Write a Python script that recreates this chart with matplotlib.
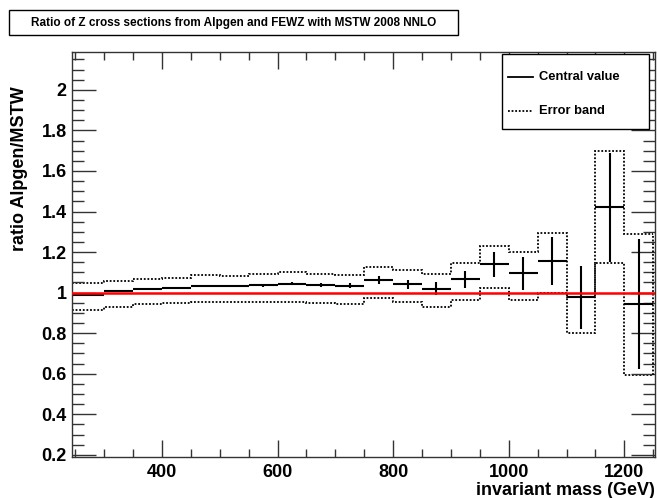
import matplotlib
matplotlib.use("Agg")
import matplotlib.pyplot as plt
from matplotlib.lines import Line2D
from matplotlib.patches import Rectangle
from matplotlib.ticker import MultipleLocator
import numpy as np

plt.rcParams['font.family'] = ['Liberation Sans', 'DejaVu Sans']
plt.rcParams['font.weight'] = 'bold'

# ---- data ----
bin_edges = [245, 300, 350, 400, 450, 500, 550, 600, 650, 700, 750,
             800, 850, 900, 950, 1000, 1050, 1100, 1150, 1200, 1250]
central = [0.990, 1.007, 1.016, 1.024, 1.032, 1.032, 1.037, 1.044, 1.036, 1.034,
           1.062, 1.042, 1.020, 1.067, 1.139, 1.095, 1.155, 0.976, 1.420, 0.945]
central_err = [0.003, 0.003, 0.004, 0.005, 0.005, 0.006, 0.007, 0.008, 0.010, 0.013,
               0.018, 0.022, 0.030, 0.042, 0.061, 0.081, 0.117, 0.155, 0.270, 0.320]
band_up = [1.045, 1.058, 1.065, 1.073, 1.086, 1.083, 1.090, 1.100, 1.092, 1.088,
           1.127, 1.110, 1.090, 1.146, 1.231, 1.201, 1.295, 0.980, 1.700, 1.290]
band_down = [0.914, 0.930, 0.942, 0.947, 0.955, 0.955, 0.955, 0.955, 0.948, 0.943,
             0.974, 0.953, 0.928, 0.966, 1.022, 0.963, 0.996, 0.800, 1.144, 0.595]

title = "Ratio of Z cross sections from Alpgen and FEWZ with MSTW 2008 NNLO"
xlabel = "invariant mass (GeV)"
ylabel = "ratio Alpgen/MSTW"
legend_labels = ["Central value", "Error band"]

W, H = 657, 498
fig = plt.figure(figsize=(W / 100, H / 100), dpi=100)
fig.patch.set_facecolor('white')

# axes in pixel geometry
x0, x1 = 72.3, 655.0
y_top, y_bot = 52.0, 457.0
ax = fig.add_axes([x0 / W, 1 - y_bot / H, (x1 - x0) / W, (y_bot - y_top) / H])

edges = np.array(bin_edges, dtype=float)
centers = 0.5 * (edges[:-1] + edges[1:])
c = np.array(central)
e = np.array(central_err)

dot = (0, (1.0, 1.0))
ax.stairs(band_up, edges, baseline=None, color='black', lw=1.3, ls=dot)
ax.stairs(band_down, edges, baseline=None, color='black', lw=1.3, ls=dot)
ax.vlines([edges[0], edges[-1]], [band_down[0], band_down[-1]],
          [band_up[0], band_up[-1]], color='black', lw=1.3, ls=dot)

ax.hlines(c, edges[:-1], edges[1:], color='black', lw=1.5)
ax.vlines(centers, c - e, c + e, color='black', lw=1.5)

ax.axhline(1.0, color='red', lw=1.8, zorder=5)

ax.set_xlim(245, 1253)
ax.set_ylim(0.189, 2.187)

ax.xaxis.set_major_locator(MultipleLocator(200))
ax.xaxis.set_minor_locator(MultipleLocator(50))
ax.yaxis.set_major_locator(MultipleLocator(0.2))
ax.yaxis.set_minor_locator(MultipleLocator(0.05))
ax.tick_params(which='both', direction='in', top=True, right=True, width=1.0, color='#333333')
ax.tick_params(axis='x', which='major', length=12, pad=5, labelsize=13)
ax.tick_params(axis='x', which='minor', length=6)
ax.tick_params(axis='y', which='major', length=17, pad=4, labelsize=13)
ax.tick_params(axis='y', which='minor', length=8.5)
ax.yaxis.set_major_formatter(matplotlib.ticker.FuncFormatter(lambda v, p: f"{v:g}"))
for sp in ax.spines.values():
    sp.set_linewidth(1.0)
    sp.set_color('#333333')

fig.text(x1 / W, 1 - 490 / H, xlabel, ha='right', va='center', fontsize=13, fontweight='bold')
fig.text(20 / W, 1 - 86 / H, ylabel, ha='center', va='top', rotation=90,
         fontsize=13, fontweight='bold')

# title box
tb = Rectangle((9 / W, 1 - 35 / H), (458 - 9) / W, (35 - 10) / H, transform=fig.transFigure,
               facecolor='white', edgecolor='black', lw=1.0)
fig.add_artist(tb)
fig.text((9 + 458) / 2 / W, 1 - 23 / H, title, ha='center', va='center', fontsize=8.5,
         fontweight='bold')

# legend box
lx0, lx1, ly0, ly1 = 502, 649, 54, 129
lb = Rectangle((lx0 / W, 1 - ly1 / H), (lx1 - lx0) / W, (ly1 - ly0) / H,
               transform=fig.transFigure, facecolor='white', edgecolor='black', lw=1.0, zorder=10)
fig.add_artist(lb)
for yy, ls, lab in [(77, '-', legend_labels[0]), (111.5, dot, legend_labels[1])]:
    fig.add_artist(Line2D([508 / W, 533 / W], [1 - yy / H, 1 - yy / H], transform=fig.transFigure,
                          color='black', lw=1.3, ls=ls, zorder=11))
    fig.text(539 / W, 1 - yy / H, lab, ha='left', va='center', fontsize=9.3,
             fontweight='bold', zorder=11)

fig.savefig("out.png", dpi=100)
